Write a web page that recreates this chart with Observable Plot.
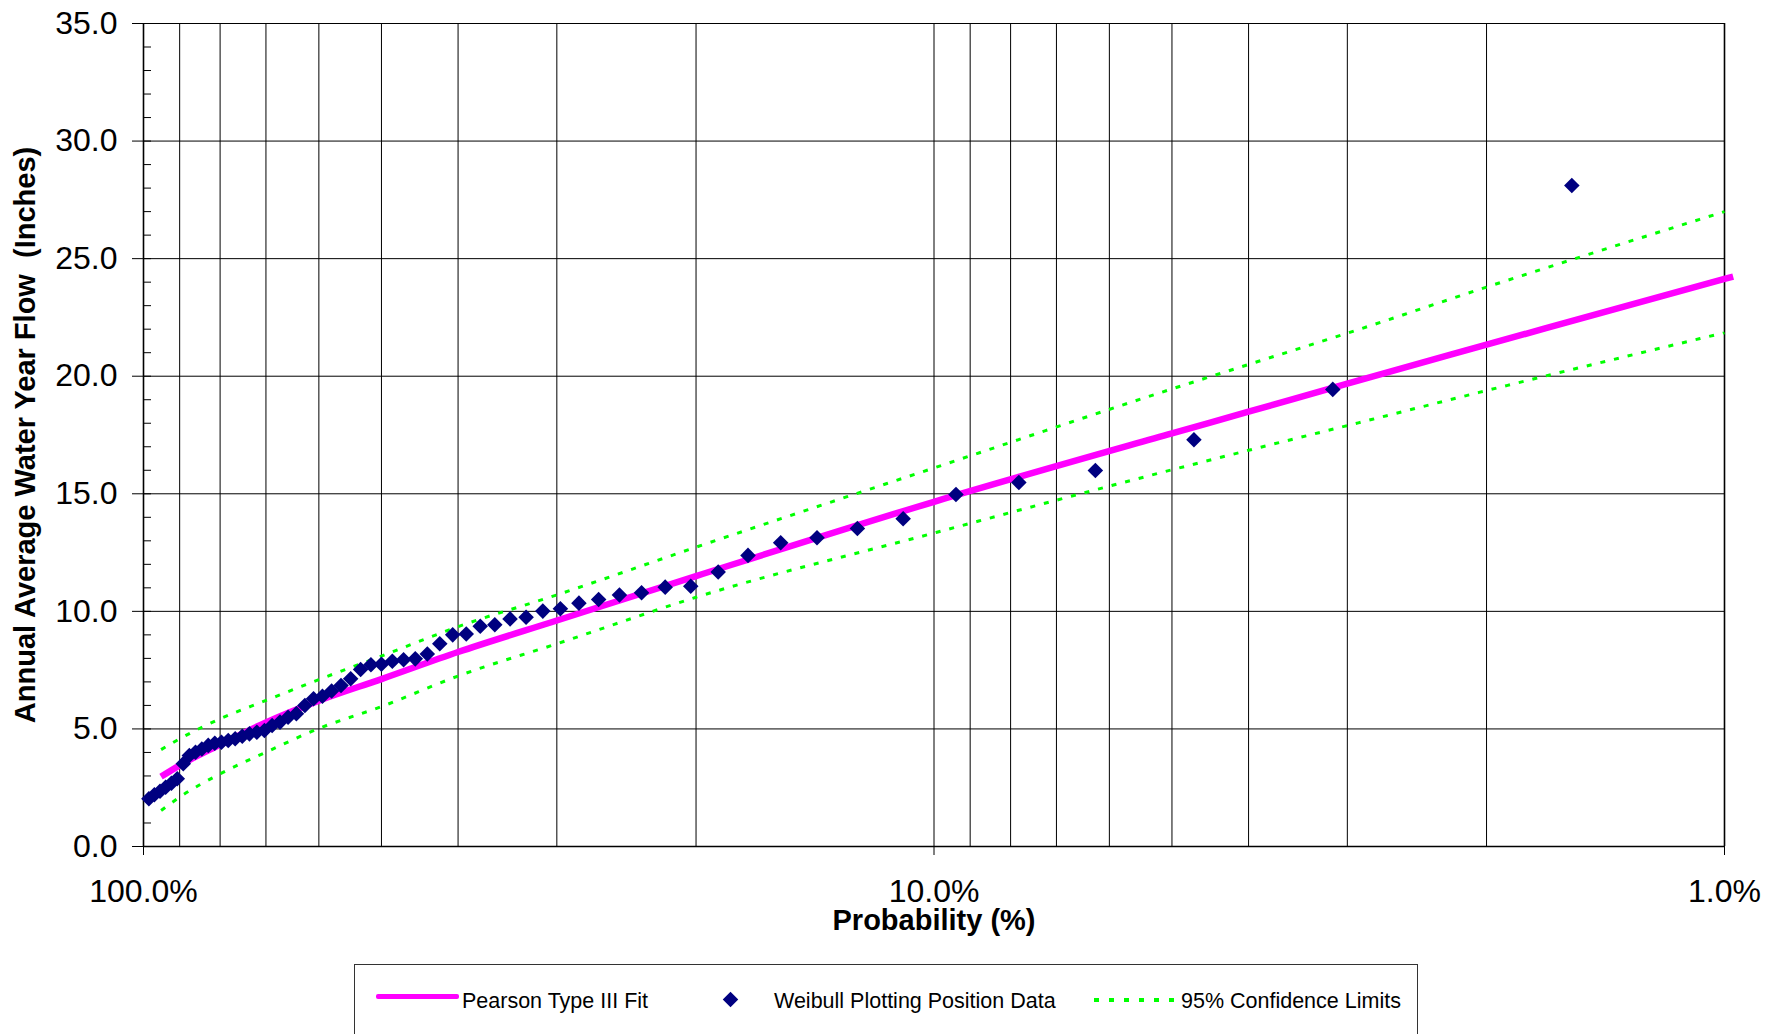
<!DOCTYPE html>
<html>
<head>
<meta charset="utf-8">
<script src="https://cdn.jsdelivr.net/npm/d3@7"></script>
<script src="https://cdn.jsdelivr.net/npm/@observablehq/plot@0.6"></script>
<style>
  html, body { margin: 0; padding: 0; background: #fff; overflow: hidden; }
  #wrap { position: relative; width: 1782px; height: 1034px; }
  #chart svg { display: block; }
  #legend {
    position: absolute; left: 354px; top: 964px; width: 1064px; height: 110px;
    border: 1px solid #333; box-sizing: border-box;
    font-family: 'Liberation Sans', Arial, sans-serif; font-size: 21.5px; color: #000;
  }
  #legend .txt { position: absolute; top: 23px; line-height: 26px; white-space: pre; }
  .sw-line { position: absolute; top: 29px; left: 21px; width: 83px; height: 5px; background: #FF00FF; border-radius: 2px; }
  .sw-diamond { position: absolute; top: 29px; left: 370px; width: 11px; height: 11px; background: #000080; transform: rotate(45deg); }
  .sw-dots { position: absolute; top: 33px; left: 739px; width: 86px; height: 4px;
    background: repeating-linear-gradient(to right, #00FF00 0 5px, transparent 5px 15px); }
</style>
</head>
<body>
<div id="wrap">
  <div id="chart"></div>
  <div id="legend">
    <div class="sw-line"></div>
    <div class="txt" style="left:107px">Pearson Type III Fit</div>
    <div class="sw-diamond"></div>
    <div class="txt" style="left:419px">Weibull Plotting Position Data</div>
    <div class="sw-dots"></div>
    <div class="txt" style="left:826px">95% Confidence Limits</div>
  </div>
</div>
<script>
// ---- Weibull plotting position data (exceedance probability %, flow in inches) ----
const weibullProb = [1.56, 3.13, 4.69, 6.25, 7.81, 9.38, 10.94, 12.50, 14.06, 15.63,
  17.19, 18.75, 20.31, 21.88, 23.44, 25.00, 26.56, 28.13, 29.69, 31.25,
  32.81, 34.38, 35.94, 37.50, 39.06, 40.63, 42.19, 43.75, 45.31, 46.88,
  48.44, 50.00, 51.56, 53.13, 54.69, 56.25, 57.81, 59.38, 60.94, 62.50,
  64.06, 65.63, 67.19, 68.75, 70.31, 71.88, 73.44, 75.00, 76.56, 78.13,
  79.69, 81.25, 82.81, 84.38, 85.94, 87.50, 89.06, 90.63, 92.19, 93.75,
  95.31, 96.88, 98.44];
const weibullFlow = [28.11, 19.44, 17.30, 15.99, 15.48, 14.97, 13.94, 13.52, 13.13, 12.92,
  12.38, 11.67, 11.07, 11.03, 10.79, 10.70, 10.50, 10.35, 10.11, 10.01,
  9.75, 9.68, 9.43, 9.37, 9.04, 9.00, 8.62, 8.19, 7.98, 7.94,
  7.88, 7.75, 7.73, 7.53, 7.13, 6.85, 6.61, 6.39, 6.28, 6.00,
  5.65, 5.50, 5.29, 5.15, 4.93, 4.86, 4.79, 4.69, 4.58, 4.51,
  4.43, 4.39, 4.30, 4.15, 4.01, 3.87, 3.52, 2.88, 2.69, 2.52,
  2.35, 2.20, 2.03];

// ---- Pearson Type III fit ----
const fitProb = [95, 90, 80, 70, 60, 50, 40, 30, 20, 10, 5, 4, 3, 2, 1, 0.975];
const fitFlow = [2.97, 3.45, 4.33, 5.28, 6.20, 7.12, 8.27, 9.61, 11.50, 14.66, 17.57, 18.49, 19.69, 21.34, 24.14, 24.24];

// ---- 95% confidence limits ----
const clProb  = [95, 90, 80, 70, 60, 50, 40, 30, 20, 10, 5, 4, 3, 2, 1];
const clUpper = [4.12, 4.58, 5.43, 6.21, 7.10, 8.10, 9.35, 10.70, 12.73, 16.10, 19.46, 20.50, 21.83, 23.79, 27.00];
const clLower = [1.53, 2.10, 3.09, 4.01, 5.02, 5.95, 7.25, 8.62, 10.60, 13.33, 16.02, 16.85, 17.90, 19.39, 21.85];

// ---- axes ----
const xLabelTicks = [100, 10, 1];
const xGridLines = [90, 80, 70, 60, 50, 40, 30, 20, 10, 9, 8, 7, 6, 5, 4, 3, 2];
const yMajor = [0, 5, 10, 15, 20, 25, 30, 35];
const yMinor = d3.range(0, 36).filter(d => d % 5 !== 0);
const yTitle = "Annual Average Water Year Flow\u00A0 (Inches)";
const xTitle = "Probability (%)";

const chart = Plot.plot({
  width: 1782,
  height: 950,
  marginLeft: 143,
  marginRight: 58,
  marginTop: 23,
  marginBottom: 104,
  x: {type: "log", domain: [100, 1]},
  y: {domain: [0, 35]},
  style: {
    fontFamily: "'Liberation Sans', Arial, sans-serif",
    background: "white",
    color: "black",
    overflow: "visible"
  },
  marks: [
    Plot.ruleX(xGridLines, {stroke: "#000", strokeWidth: 1}),
    Plot.ruleY([5, 10, 15, 20, 25, 30, 35], {stroke: "#000", strokeWidth: 1}),
    Plot.ruleX([1], {stroke: "#000", strokeWidth: 1.6}),
    Plot.axisY(yMinor, {tickSize: 8, dx: 8, fill: "none", label: null}),
    Plot.axisY(yMajor, {tickSize: 19, dx: 8, fill: "none", label: null}),
    Plot.axisY(yMajor, {tickSize: 0, tickPadding: 26, tickFormat: d => d.toFixed(1), fontSize: 32, label: null}),
    Plot.axisX(xLabelTicks, {tickSize: 9, tickPadding: 24, tickFormat: d => d.toFixed(1) + "%", fontSize: 32, label: null}),
    Plot.ruleX([100], {stroke: "#000", strokeWidth: 1.6}),
    Plot.ruleY([0], {stroke: "#000", strokeWidth: 1.6}),
    Plot.line(clUpper, {x: clProb, y: clUpper, stroke: "#00FF00", strokeWidth: 3, strokeDasharray: "5 9", strokeLinecap: "butt", curve: "monotone-x"}),
    Plot.line(clLower, {x: clProb, y: clLower, stroke: "#00FF00", strokeWidth: 3, strokeDasharray: "5 9", strokeLinecap: "butt", curve: "monotone-x"}),
    Plot.line(fitFlow, {x: fitProb, y: fitFlow, stroke: "#FF00FF", strokeWidth: 6.5, strokeLinecap: "butt", curve: "monotone-x"}),
    Plot.dot(weibullFlow, {x: weibullProb, y: weibullFlow, symbol: "diamond2", r: 7, fill: "#000080", stroke: "none"}),
    Plot.text([yTitle], {frameAnchor: "left", dx: -118, rotate: -90, textAnchor: "middle", lineAnchor: "middle", fontSize: 29, fontWeight: "bold", fill: "#000"}),
    Plot.text([xTitle], {frameAnchor: "bottom", dy: 74, textAnchor: "middle", lineAnchor: "middle", fontSize: 29, fontWeight: "bold", fill: "#000"})
  ]
});
document.getElementById("chart").appendChild(chart);
</script>
</body>
</html>
